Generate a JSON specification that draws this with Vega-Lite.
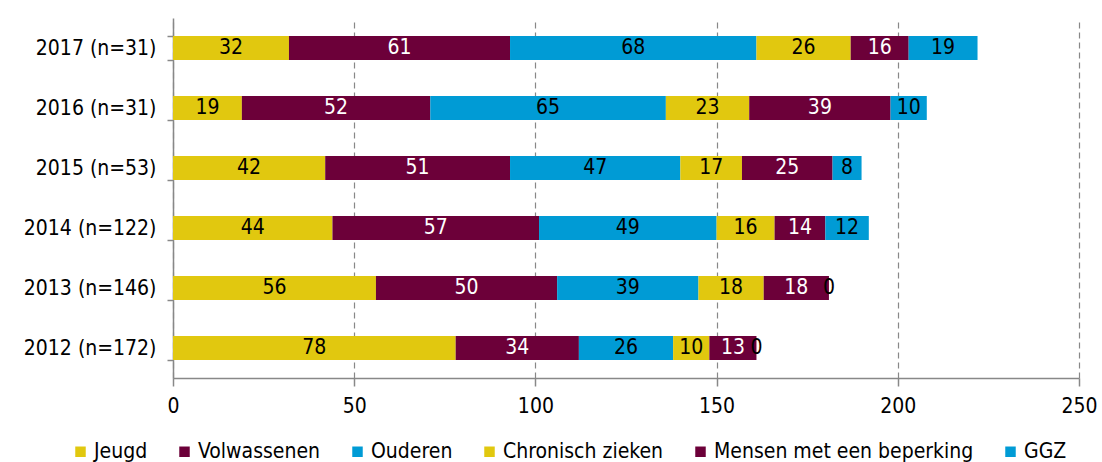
{
  "$schema": "https://vega.github.io/schema/vega-lite/v6.json",
  "autosize": "none",
  "width": 906,
  "height": 360,
  "padding": {"left": 173, "top": 18, "right": 23, "bottom": 84},
  "background": "white",
  "config": {
    "font": "DejaVu Sans Condensed",
    "view": {"stroke": null}
  },
  "data": {
    "values": [
      {"year": "2017 (n=31)", "s": "Jeugd", "k": 1, "v": 32},
      {"year": "2017 (n=31)", "s": "Volwassenen", "k": 2, "v": 61},
      {"year": "2017 (n=31)", "s": "Ouderen", "k": 3, "v": 68},
      {"year": "2017 (n=31)", "s": "Chronisch zieken", "k": 4, "v": 26},
      {"year": "2017 (n=31)", "s": "Mensen met een beperking", "k": 5, "v": 16},
      {"year": "2017 (n=31)", "s": "GGZ", "k": 6, "v": 19},
      {"year": "2016 (n=31)", "s": "Jeugd", "k": 1, "v": 19},
      {"year": "2016 (n=31)", "s": "Volwassenen", "k": 2, "v": 52},
      {"year": "2016 (n=31)", "s": "Ouderen", "k": 3, "v": 65},
      {"year": "2016 (n=31)", "s": "Chronisch zieken", "k": 4, "v": 23},
      {"year": "2016 (n=31)", "s": "Mensen met een beperking", "k": 5, "v": 39},
      {"year": "2016 (n=31)", "s": "GGZ", "k": 6, "v": 10},
      {"year": "2015 (n=53)", "s": "Jeugd", "k": 1, "v": 42},
      {"year": "2015 (n=53)", "s": "Volwassenen", "k": 2, "v": 51},
      {"year": "2015 (n=53)", "s": "Ouderen", "k": 3, "v": 47},
      {"year": "2015 (n=53)", "s": "Chronisch zieken", "k": 4, "v": 17},
      {"year": "2015 (n=53)", "s": "Mensen met een beperking", "k": 5, "v": 25},
      {"year": "2015 (n=53)", "s": "GGZ", "k": 6, "v": 8},
      {"year": "2014 (n=122)", "s": "Jeugd", "k": 1, "v": 44},
      {"year": "2014 (n=122)", "s": "Volwassenen", "k": 2, "v": 57},
      {"year": "2014 (n=122)", "s": "Ouderen", "k": 3, "v": 49},
      {"year": "2014 (n=122)", "s": "Chronisch zieken", "k": 4, "v": 16},
      {"year": "2014 (n=122)", "s": "Mensen met een beperking", "k": 5, "v": 14},
      {"year": "2014 (n=122)", "s": "GGZ", "k": 6, "v": 12},
      {"year": "2013 (n=146)", "s": "Jeugd", "k": 1, "v": 56},
      {"year": "2013 (n=146)", "s": "Volwassenen", "k": 2, "v": 50},
      {"year": "2013 (n=146)", "s": "Ouderen", "k": 3, "v": 39},
      {"year": "2013 (n=146)", "s": "Chronisch zieken", "k": 4, "v": 18},
      {"year": "2013 (n=146)", "s": "Mensen met een beperking", "k": 5, "v": 18},
      {"year": "2013 (n=146)", "s": "GGZ", "k": 6, "v": 0},
      {"year": "2012 (n=172)", "s": "Jeugd", "k": 1, "v": 78},
      {"year": "2012 (n=172)", "s": "Volwassenen", "k": 2, "v": 34},
      {"year": "2012 (n=172)", "s": "Ouderen", "k": 3, "v": 26},
      {"year": "2012 (n=172)", "s": "Chronisch zieken", "k": 4, "v": 10},
      {"year": "2012 (n=172)", "s": "Mensen met een beperking", "k": 5, "v": 13},
      {"year": "2012 (n=172)", "s": "GGZ", "k": 6, "v": 0}
    ]
  },
  "encoding": {
    "y": {
      "field": "year",
      "type": "nominal",
      "sort": ["2017 (n=31)", "2016 (n=31)", "2015 (n=53)", "2014 (n=122)", "2013 (n=146)", "2012 (n=172)"],
      "scale": {"paddingInner": 0.6, "paddingOuter": 0.3},
      "axis": {
        "title": null,
        "domainColor": "#888888",
        "domainWidth": 1.5,
        "tickColor": "#888888",
        "tickWidth": 1.5,
        "tickSize": 6,
        "tickBand": "extent",
        "labelFontSize": 21,
        "labelColor": "#000000",
        "labelPadding": 11,
        "labelFont": "DejaVu Sans Condensed",
        "labelLimit": 300
      }
    },
    "x": {
      "field": "v",
      "type": "quantitative",
      "stack": "zero",
      "scale": {"domain": [0, 250], "nice": false},
      "axis": {
        "title": null,
        "values": [0, 50, 100, 150, 200, 250],
        "domainColor": "#888888",
        "domainWidth": 1.5,
        "tickColor": "#888888",
        "tickWidth": 1.5,
        "tickSize": 8,
        "grid": true,
        "gridColor": "#888888",
        "gridDash": [6, 4],
        "gridWidth": 1.2,
        "labelFontSize": 21,
        "labelColor": "#000000",
        "labelPadding": 9,
        "labelFlush": false,
        "labelFont": "DejaVu Sans Condensed"
      }
    },
    "order": {"field": "k", "type": "quantitative"}
  },
  "layer": [
    {
      "mark": {"type": "bar"},
      "encoding": {
        "color": {
          "field": "s",
          "type": "nominal",
          "scale": {
            "domain": ["Jeugd", "Volwassenen", "Ouderen", "Chronisch zieken", "Mensen met een beperking", "GGZ"],
            "range": ["#E1C80F", "#6C0039", "#009BD5", "#E1C80F", "#6C0039", "#009BD5"]
          },
          "legend": {
            "title": null,
            "orient": "none",
            "direction": "horizontal",
            "columns": 6,
            "legendX": -103,
            "legendY": 423,
            "symbolType": "square",
            "symbolSize": 110,
            "symbolStrokeWidth": 0,
            "labelFontSize": 21,
            "labelColor": "#000000",
            "labelFont": "DejaVu Sans Condensed",
            "labelLimit": 400,
            "labelOffset": 3,
            "columnPadding": 26
          }
        }
      }
    },
    {
      "mark": {"type": "text", "fontSize": 21, "baseline": "middle", "align": "center", "font": "DejaVu Sans Condensed"},
      "encoding": {
        "x": {"field": "v", "type": "quantitative", "stack": "zero", "bandPosition": 0.5},
        "text": {"field": "v", "type": "quantitative"},
        "color": {
          "condition": {"test": "datum.k == 2 || datum.k == 5", "value": "#ffffff"},
          "value": "#000000"
        }
      }
    }
  ]
}
